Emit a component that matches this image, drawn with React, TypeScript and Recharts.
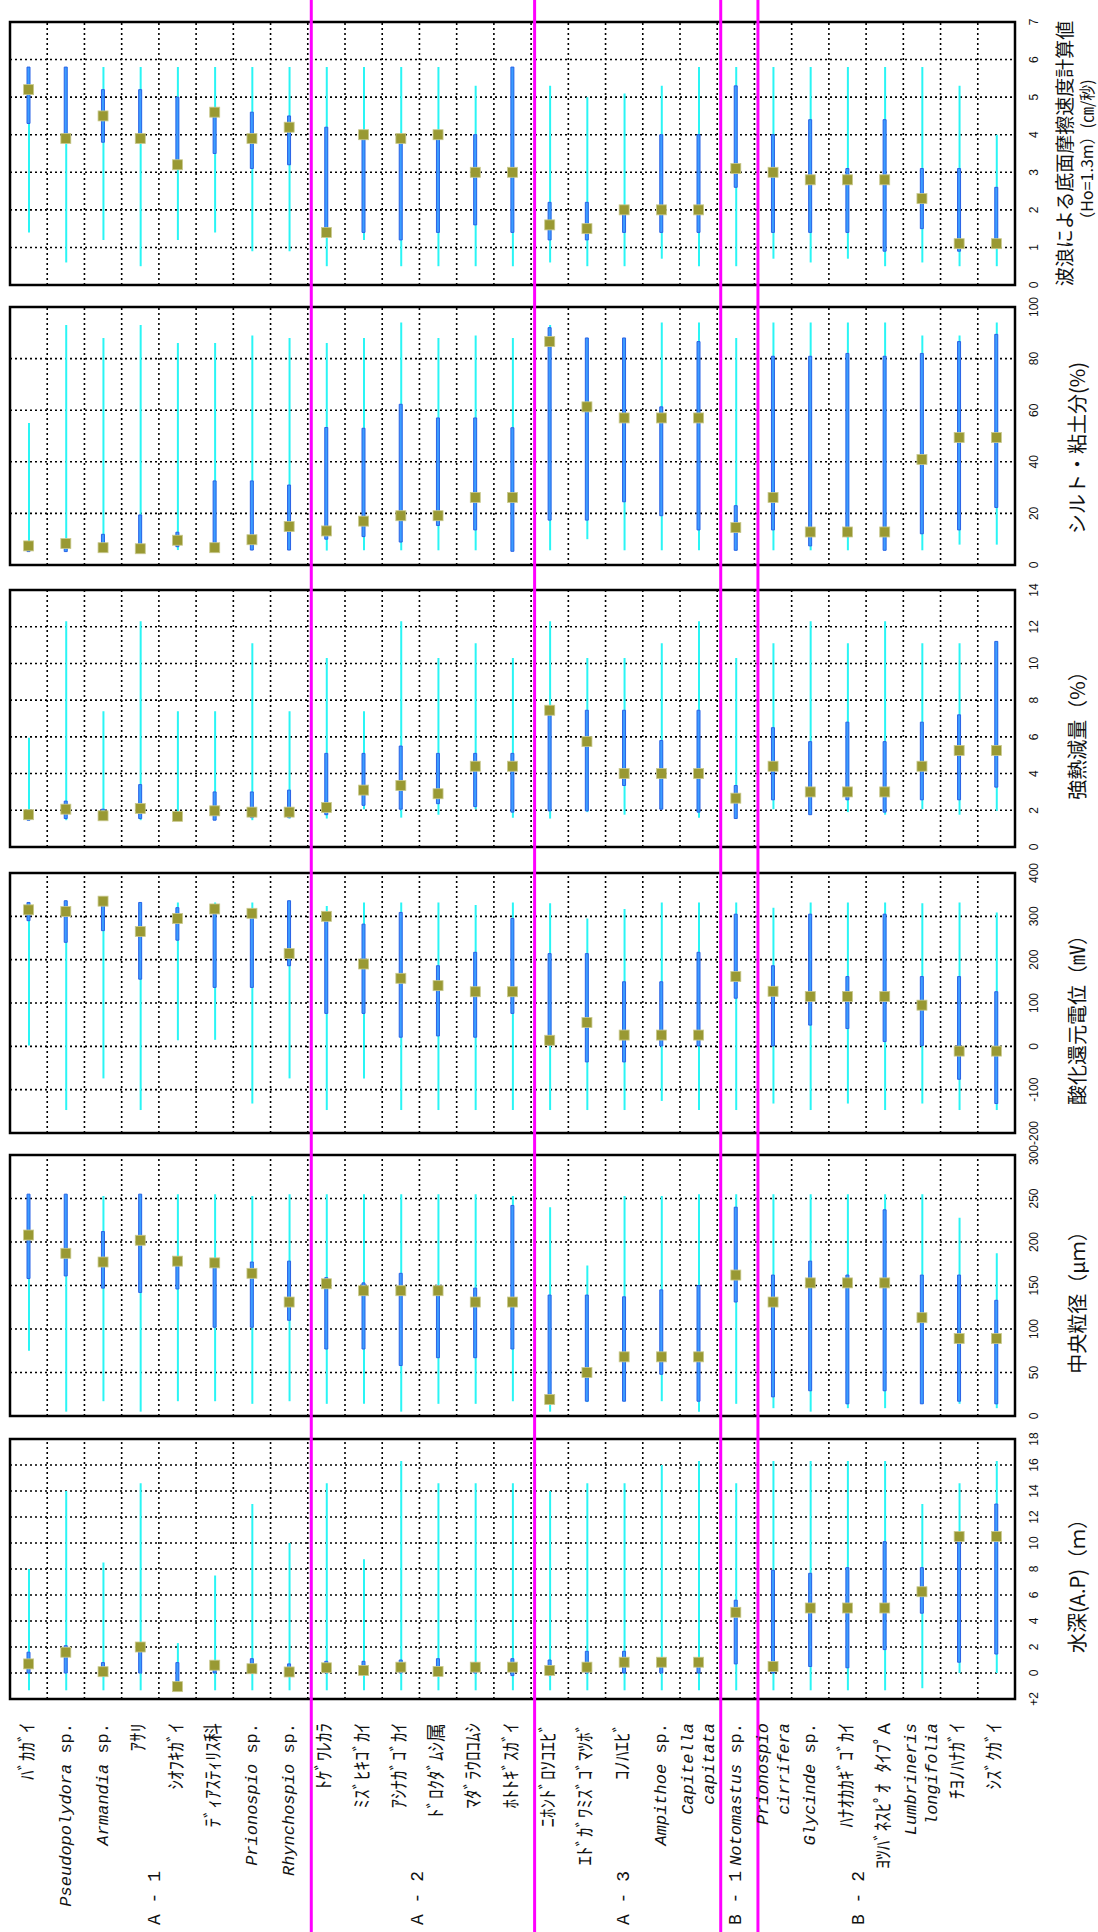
import React from 'react';
import { ComposedChart, Bar, Scatter, XAxis, YAxis, CartesianGrid, ReferenceLine, ReferenceArea } from 'recharts';

// species along the horizontal axis
const species: string[][] = [
  ['ﾊﾞｶｶﾞｲ'], ['Pseudopolydora sp.'], ['Armandia sp.'], ['ｱｻﾘ'], ['ｼｵﾌｷｶﾞｲ'],
  ['ﾃﾞｨｱｽﾃｨﾘｽ科'], ['Prionospio sp.'], ['Rhynchospio sp.'],
  ['ﾄｹﾞﾜﾚｶﾗ'], ['ﾐｽﾞﾋｷｺﾞｶｲ'], ['ｱｼﾅｶﾞｺﾞｶｲ'], ['ﾄﾞﾛｸﾀﾞﾑｼ属'], ['ﾏﾀﾞﾗｳﾛｺﾑｼ'], ['ﾎﾄﾄｷﾞｽｶﾞｲ'],
  ['ﾆﾎﾝﾄﾞﾛｿｺｴﾋﾞ'], ['ｴﾄﾞｶﾞﾜﾐｽﾞｺﾞﾏﾂﾎﾞ'], ['ｺﾉﾊｴﾋﾞ'], ['Ampithoe sp.'], ['Capitella', 'capitata'],
  ['Notomastus sp.'],
  ['Prionospio', 'cirrifera'], ['Glycinde sp.'], ['ﾊﾅｵｶｶｷﾞｺﾞｶｲ'], ['ﾖﾂﾊﾞﾈｽﾋﾟｵ ﾀｲﾌﾟA'],
  ['Lumbrineris', 'longifolia'], ['ﾁﾖﾉﾊﾅｶﾞｲ'], ['ｼｽﾞｸｶﾞｲ'],
];
const groups = ['A - 1', 'A - 2', 'A - 3', 'B - 1', 'B - 2'];
const groupLabelPos = [3.9, 10.95, 16.5, 19.5, 22.8];
const groupBounds = [8, 14, 19, 20];

// 波浪による底面摩擦速度
const waveMin = [1.4, 0.6, 1.2, 0.5, 1.2, 1.4, 0.9, 0.9, 0.5, 1.2, 0.5, 0.5, 0.5, 0.5, 0.6, 0.5, 0.5, 0.7, 0.5, 0.5, 0.7, 0.6, 0.7, 0.5, 0.6, 0.5, 0.5];
const waveMax = [5.8, 5.8, 5.8, 5.8, 5.8, 5.8, 5.8, 5.8, 5.8, 5.8, 5.8, 5.8, 5.3, 5.8, 5.3, 5.0, 5.1, 5.3, 5.8, 5.8, 5.8, 5.8, 5.8, 5.8, 5.8, 5.3, 4.0];
const waveLo = [4.3, 3.9, 3.8, 3.9, 3.1, 3.5, 3.1, 3.2, 1.5, 1.4, 1.2, 1.4, 1.6, 1.4, 1.2, 1.2, 1.4, 1.4, 1.4, 2.6, 1.4, 1.4, 1.4, 0.9, 1.5, 0.9, 1.0];
const waveHi = [5.8, 5.8, 5.2, 5.2, 5.0, 4.7, 4.6, 4.5, 4.2, 4.0, 4.0, 4.0, 4.0, 5.8, 2.2, 2.2, 2.1, 4.0, 4.0, 5.3, 4.0, 4.4, 3.1, 4.4, 3.1, 3.1, 2.6];
const waveMark = [5.2, 3.9, 4.5, 3.9, 3.2, 4.6, 3.9, 4.2, 1.4, 4.0, 3.9, 4.0, 3.0, 3.0, 1.6, 1.5, 2.0, 2.0, 2.0, 3.1, 3.0, 2.8, 2.8, 2.8, 2.3, 1.1, 1.1];

// シルト・粘土分
const siltMin = [5.2, 5.2, 5.5, 5.0, 5.8, 5.5, 5.8, 5.8, 5.6, 5.7, 5.7, 5.7, 5.7, 5.7, 5.7, 10, 5.7, 5.7, 5.7, 5.7, 5.7, 5.7, 5.7, 5.7, 5.7, 7.9, 7.9];
const siltMax = [55, 93, 88, 93, 86, 86, 89, 88, 86, 88, 94, 88, 89, 88, 93, 88, 88, 94, 94, 88, 94, 94, 94, 94, 89, 89, 94];
const siltLo = [5.2, 5.2, 7.1, 5.2, 7.1, 5.2, 5.8, 5.8, 10, 11, 8.9, 15.3, 13.6, 5.3, 17.4, 17.4, 24.5, 19.1, 13.6, 5.7, 13.6, 7.4, 11, 5.7, 12.1, 13.6, 22.3];
const siltHi = [9, 9.7, 11.9, 19.4, 12.7, 32.6, 32.6, 31, 53.3, 53, 62.3, 57, 57, 53.2, 92, 88, 88, 61.3, 86.6, 23, 80.9, 80.9, 82, 80.9, 82, 86.6, 89.4];
const siltMark = [7.4, 8.3, 6.7, 6.3, 9.6, 6.7, 9.8, 14.9, 13.2, 17, 19.1, 19.1, 26.2, 26.2, 86.6, 61.3, 57, 57, 57, 14.5, 26.2, 12.8, 12.8, 12.8, 40.9, 49.4, 49.4];

// 強熱減量
const ignMin = [1.46, 1.46, 1.46, 1.46, 1.46, 1.46, 1.46, 1.55, 1.55, 2.06, 1.6, 1.76, 2.06, 1.6, 1.55, 1.9, 1.76, 2.06, 1.6, 1.55, 2.06, 1.76, 1.9, 1.76, 2.06, 1.76, 1.97];
const ignMax = [5.95, 12.3, 7.4, 12.3, 7.4, 7.4, 11.1, 7.4, 10.3, 7.4, 12.3, 10.3, 11.1, 10.3, 12.3, 10.3, 10.3, 11.1, 12.3, 10.3, 11.1, 12.3, 11.1, 12.3, 11.1, 11.1, 11.2];
const ignLo = [1.46, 1.55, 1.55, 1.55, 1.5, 1.46, 1.6, 1.6, 1.76, 2.27, 2.06, 2.36, 2.2, 1.9, 1.97, 1.97, 3.35, 2.06, 1.9, 1.55, 2.57, 1.76, 2.57, 1.9, 2.57, 2.57, 3.26];
const ignHi = [1.9, 2.5, 2.06, 3.4, 1.9, 3.0, 3.0, 3.1, 5.1, 5.1, 5.5, 5.1, 5.1, 5.1, 7.45, 7.45, 7.45, 5.8, 7.45, 3.35, 6.5, 5.74, 6.8, 5.74, 6.8, 7.2, 11.2];
const ignMark = [1.76, 2.06, 1.7, 2.1, 1.67, 1.97, 1.9, 1.9, 2.15, 3.1, 3.35, 2.9, 4.4, 4.4, 7.45, 5.74, 4.0, 4.0, 4.0, 2.66, 4.4, 3.0, 3.0, 3.0, 4.4, 5.26, 5.26];

// 酸化還元電位
const orpMin = [2, -147, -74, -147, 14, 15, -132, -74, -147, -74, -147, -147, -147, -147, -147, -147, -147, -126, -147, -147, -132, -147, -132, -147, -132, -147, -147];
const orpMax = [332, 336, 332, 332, 332, 332, 332, 336, 324, 332, 332, 332, 326, 332, 330, 295, 317, 332, 332, 332, 320, 332, 332, 332, 330, 332, 309];
const orpLo = [290, 240, 267, 155, 245, 136, 136, 186, 76, 76, 21, 24, 21, 76, 2, -36, -36, 1, 1, 111, 1, 49, 41, 11, 2, -76, -132];
const orpHi = [332, 336, 332, 332, 320, 327, 315, 336, 309, 282, 309, 186, 217, 295, 214, 214, 149, 149, 217, 305, 186, 305, 161, 305, 161, 161, 126];
const orpMark = [315, 311, 335, 265, 295, 317, 307, 214, 300, 190, 157, 140, 126, 126, 14, 55, 26, 26, 26, 161, 127, 115, 115, 115, 95, -11, -11];

// 中央粒径
const grainMin = [75, 5, 17, 5, 17, 17, 14, 17, 14, 14, 5, 14, 14, 17, 5, 16, 17, 17, 5, 14, 9, 5, 9, 9, 14, 14, 9];
const grainMax = [255, 255, 253, 255, 255, 255, 253, 255, 255, 255, 255, 255, 255, 253, 240, 173, 253, 253, 255, 255, 255, 255, 255, 255, 255, 228, 187];
const grainLo = [158, 161, 147, 142, 146, 102, 102, 110, 77, 77, 58, 67, 67, 77, 16, 17, 17, 48, 17, 131, 22, 29, 14, 29, 14, 17, 14];
const grainHi = [255, 255, 212, 255, 178, 178, 177, 178, 159, 153, 164, 150, 147, 242, 139, 139, 137, 145, 150, 240, 162, 178, 162, 237, 162, 162, 133];
const grainMark = [208, 187, 177, 202, 178, 176, 164, 131, 152, 144, 144, 144, 131, 131, 19, 50, 68, 68, 68, 162, 131, 153, 153, 153, 113, 89, 89];

// 水深
const depthMin = [-1.33, -1.33, -1.33, -1.33, -1.33, -1.33, -1.33, -1.33, -1.33, -1.33, -1.33, -1.33, -1.33, -1.33, -1.33, -1.33, -1.33, -1.33, -1.33, -1.33, -1.33, -1.33, -1.33, -1.33, -1.17, 0, 0];
const depthMax = [8.0, 14, 8.5, 14.6, 2.3, 7.5, 13, 10, 14.6, 8.75, 16.3, 14.6, 14.6, 14.6, 14, 14.6, 14.6, 16, 16.3, 14.6, 16.3, 16.3, 16.3, 16.3, 13, 14.6, 16.3];
const depthLo = [0, 0, 0, 0, -1.25, 0, 0, -0.2, 0, 0, 0, -0.2, 0, -0.2, -0.2, 0, 0, 0, 0, 0.7, 0, 0.5, 0.4, 1.8, 4.6, 0.83, 1.46];
const depthHi = [1.6, 2.1, 0.8, 2.1, 0.8, 0.8, 1.1, 0.7, 0.9, 0.9, 1.0, 1.1, 0.8, 1.1, 1.0, 1.67, 1.67, 0.8, 1.0, 5.6, 7.9, 7.67, 8.1, 10.1, 8.1, 10.5, 13];
const depthMark = [0.7, 1.6, 0.1, 2.0, -1.05, 0.6, 0.33, 0.08, 0.4, 0.2, 0.45, 0.12, 0.45, 0.45, 0.2, 0.45, 0.83, 0.83, 0.83, 4.67, 0.5, 5.0, 5.0, 5.0, 6.25, 10.5, 10.5];

const waveTicks = [0, 1, 2, 3, 4, 5, 6, 7];
const siltTicks = [0, 20, 40, 60, 80, 100];
const ignTicks = [0, 2, 4, 6, 8, 10, 12, 14];
const orpTicks = [-200, -100, 0, 100, 200, 300, 400];
const grainTicks = [0, 50, 100, 150, 200, 250, 300];
const depthTicks = [-2, 0, 2, 4, 6, 8, 10, 12, 14, 16, 18];

const W = 1098;
const H = 1932;
const PLOT_L = 10;
const PLOT_R = 1015;
const LABEL_H = 232;
const N = species.length;
const centers = species.map((_, i) => i + 0.5);
const bounds = Array.from({ length: N - 1 }, (_, i) => i + 1);

const MONO = "'Liberation Mono', 'Noto Sans CJK JP', monospace";
const SANS = "'Liberation Sans', Arial, sans-serif";
const JP = "'Noto Sans CJK JP', sans-serif";

type PanelDef = {
  title: string[];
  ticks: number[];
  min: number[]; max: number[]; lo: number[]; hi: number[]; mark: number[];
  top: number; height: number; gapAbove: number;
  fmt?: (v: number) => string;
};

const panels: PanelDef[] = [
  { title: ['波浪による底面摩擦速度計算値', '（Ho=1.3m）(㎝/秒)'], ticks: waveTicks, min: waveMin, max: waveMax, lo: waveLo, hi: waveHi, mark: waveMark, top: 22, height: 263, gapAbove: 22 },
  { title: ['シルト・粘土分(%)'], ticks: siltTicks, min: siltMin, max: siltMax, lo: siltLo, hi: siltHi, mark: siltMark, top: 307, height: 258, gapAbove: 22 },
  { title: ['強熱減量（%）'], ticks: ignTicks, min: ignMin, max: ignMax, lo: ignLo, hi: ignHi, mark: ignMark, top: 590, height: 257, gapAbove: 25 },
  { title: ['酸化還元電位（㎷）'], ticks: orpTicks, min: orpMin, max: orpMax, lo: orpLo, hi: orpHi, mark: orpMark, top: 873, height: 260, gapAbove: 26 },
  { title: ['中央粒径（μｍ）'], ticks: grainTicks, min: grainMin, max: grainMax, lo: grainLo, hi: grainHi, mark: grainMark, top: 1155, height: 261, gapAbove: 22 },
  { title: ['水深(A.P)（ｍ）'], ticks: depthTicks, min: depthMin, max: depthMax, lo: depthLo, hi: depthHi, mark: depthMark, top: 1439, height: 260, gapAbove: 23, fmt: (v) => (v < 0 ? '+' + -v : String(v)) },
];

function ValueTick(props: any) {
  const { x, y, payload, fmt } = props;
  const tx = x + 19;
  const label = fmt ? fmt(payload.value) : String(payload.value);
  return (
    <text x={tx} y={y} transform={`rotate(-90 ${tx} ${y})`} textAnchor="middle" dominantBaseline="central"
      fontSize={12} fontFamily={SANS} fill="#111">{label}</text>
  );
}

function AxisTitle(props: any) {
  const { viewBox, lines } = props;
  const vb = viewBox || {};
  const x0 = vb.x ?? PLOT_R;
  const cy = (vb.y ?? 0) + (vb.height ?? 0) / 2;
  const items = lines.length === 1
    ? [{ t: lines[0], dx: 61, dy: 12, fs: 20 }]
    : [{ t: lines[0], dx: 48, dy: 0, fs: 19 }, { t: lines[1], dx: 71, dy: 0, fs: 16 }];
  return (
    <g>
      {items.map((it: any, k: number) => (
        <text key={k} x={x0 + it.dx} y={cy + it.dy} transform={`rotate(-90 ${x0 + it.dx} ${cy + it.dy})`} textAnchor="middle"
          dominantBaseline="central" fontSize={it.fs} fontFamily={JP} fill="#111">{it.t}</text>
      ))}
    </g>
  );
}

function nameParts(line: string) {
  if (!/^[A-Za-z]/.test(line)) return line;
  const m = line.match(/^(.*?)( sp\.)$/);
  if (m) return [<tspan key="g" fontStyle="italic">{m[1]}</tspan>, <tspan key="s">{m[2]}</tspan>];
  return <tspan fontStyle="italic">{line}</tspan>;
}

function SpeciesTick(props: any) {
  const { x, y, payload } = props;
  const idx = Math.round(payload.value - 0.5);
  const lines = species[idx] || [];
  const y0 = y + 24;
  return (
    <g>
      {lines.map((ln, k) => {
        const cx = x + (k - (lines.length - 1) / 2) * 21;
        const latin = /^[A-Za-z]/.test(ln);
        return (
          <text key={k} x={cx} y={y0} transform={`rotate(-90 ${cx} ${y0})`} textAnchor="end" dominantBaseline="central"
            fontSize={latin ? 17 : 19} fontFamily={MONO} fill="#111">{nameParts(ln)}</text>
        );
      })}
    </g>
  );
}

function GroupTick(props: any) {
  const { x, y, payload } = props;
  const k = groupLabelPos.indexOf(payload.value);
  const y0 = y - 36;
  return (
    <text x={x} y={y0} transform={`rotate(-90 ${x} ${y0})`} textAnchor="start" dominantBaseline="central"
      fontSize={18} fontFamily={MONO} fill="#111">{groups[k]}</text>
  );
}

const renderMark = (p: any) => (
  <rect x={p.cx - 5} y={p.cy - 5} width={10} height={10} fill="#999933" stroke="#c9c98e" strokeWidth={0.8} />
);

const magentaShape = (up: number, down: number) => (p: any) => {
  const x = (p.x1 ?? 0) + 3.5;
  const y1 = Math.min(p.y1, p.y2) - up;
  const y2 = Math.max(p.y1, p.y2) + down;
  return <line x1={x} x2={x} y1={y1} y2={y2} stroke="#ff00ff" strokeWidth={3} />;
};

function Panel({ p, last }: { p: PanelDef; last: boolean }) {
  const data = species.map((_, i) => ({
    x: i + 0.5,
    range: [p.min[i], p.max[i]],
    core: [p.lo[i], p.hi[i]],
    mark: p.mark[i],
  }));
  const yMin = p.ticks[0];
  const yMax = p.ticks[p.ticks.length - 1];
  const h = p.height + (last ? LABEL_H + 1 : 0);
  return (
    <div style={{ position: 'absolute', left: 0, top: p.top }}>
      <ComposedChart width={W} height={h} data={data} margin={{ top: 0, right: 0, bottom: 0, left: PLOT_L }}>
        <CartesianGrid xAxisId="a" vertical={false} stroke="#000" strokeWidth={1.6} strokeDasharray="2 3" />
        <XAxis xAxisId="a" type="number" dataKey="x" domain={[0, N]} ticks={centers} interval={0} hide={!last}
          height={LABEL_H} axisLine={false} tickLine={false} tickSize={0} tickMargin={0} tick={<SpeciesTick />} />
        <XAxis xAxisId="b" type="number" dataKey="x" domain={[0, N]} hide />
        {last && (
          <XAxis xAxisId="g" type="number" dataKey="x" domain={[0, N]} ticks={groupLabelPos} interval={0} height={1}
            axisLine={false} tickLine={false} tickSize={0} tickMargin={0} tick={<GroupTick />} />
        )}
        <YAxis orientation="right" type="number" domain={[yMin, yMax]} ticks={p.ticks} interval={0} width={W - PLOT_R}
          axisLine={false} tickLine={false} tickSize={0} tickMargin={0} allowDataOverflow
          tick={<ValueTick fmt={p.fmt} />} label={<AxisTitle lines={p.title} />} />
        {bounds.map((b) => (
          <ReferenceLine key={b} xAxisId="a" x={b} stroke="#000" strokeWidth={1.6} strokeDasharray="2 3" />
        ))}
        <Bar xAxisId="a" dataKey="range" barSize={2} fill="#2af5f5" isAnimationActive={false} />
        <Bar xAxisId="b" dataKey="core" barSize={3} fill="#3b9dff" stroke="#2a62e6" strokeWidth={1} isAnimationActive={false} />
        <Scatter xAxisId="a" dataKey="mark" shape={renderMark} isAnimationActive={false} />
        <ReferenceArea xAxisId="a" x1={0} x2={N} y1={yMin} y2={yMax} fill="none" stroke="#000" strokeWidth={2.5} />
        {groupBounds.map((b) => (
          <ReferenceLine key={'m' + b} xAxisId="a" x={b} stroke="#ff00ff"
            shape={magentaShape(p.gapAbove, last ? LABEL_H + 1 : 0)} />
        ))}
      </ComposedChart>
    </div>
  );
}

export default function App() {
  return (
    <div style={{ position: 'relative', width: W, height: H, background: '#fff' }}>
      <style>{'body{margin:0;background:#fff}.recharts-surface{overflow:visible}.recharts-wrapper{overflow:visible}'}</style>
      {panels.map((p, i) => (
        <Panel key={i} p={p} last={i === panels.length - 1} />
      ))}
    </div>
  );
}
